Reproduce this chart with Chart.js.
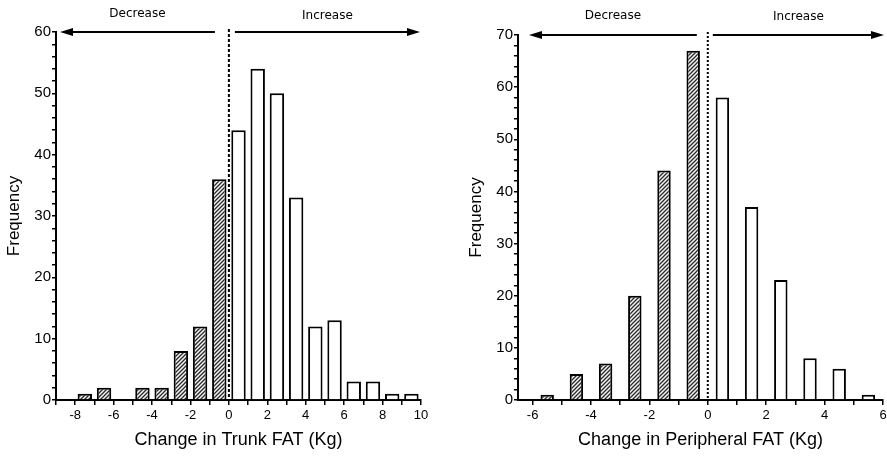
<!DOCTYPE html>
<html>
<head>
<meta charset="utf-8">
<script src="https://cdn.jsdelivr.net/npm/chart.js@4.4.1/dist/chart.umd.min.js"></script>
<style>
  body { margin: 0; background: #fff; }
  #wrap { position: relative; width: 887px; height: 459px; }
  canvas { position: absolute; top: 0; }
</style>
</head>
<body>
<div id="wrap">
  <canvas id="trunk" width="440" height="459" style="left:0"></canvas>
  <canvas id="periph" width="447" height="459" style="left:440px"></canvas>
</div>
<script>
// histogram bins (bin centres) and counts
const trunkBins = [-7.5, -6.5, -5.5, -4.5, -3.5, -2.5, -1.5, -0.5, 0.5, 1.5, 2.5, 3.5, 4.5, 5.5, 6.5, 7.5, 8.5, 9.5];
const trunkFreq = [1, 2, 0, 2, 2, 8, 12, 36, 44, 54, 50, 33, 12, 13, 3, 3, 1, 1];
const periphBins = [-5.5, -4.5, -3.5, -2.5, -1.5, -0.5, 0.5, 1.5, 2.5, 3.5, 4.5, 5.5];
const periphFreq = [1, 5, 7, 20, 44, 67, 58, 37, 23, 8, 6, 1];

// labelled ticks
const trunkXLabels = [-8, -6, -4, -2, 0, 2, 4, 6, 8, 10];
const periphXLabels = [-6, -4, -2, 0, 2, 4, 6];
const trunkYLabels = [0, 10, 20, 30, 40, 50, 60];
const periphYLabels = [0, 10, 20, 30, 40, 50, 60, 70];

const arrowText = ['Decrease', 'Increase'];

// diagonal hatch for the "decrease" bars
function hatch() {
  const c = document.createElement('canvas');
  c.width = 4; c.height = 4;
  const g = c.getContext('2d');
  g.fillStyle = '#f4f4f4';
  g.fillRect(0, 0, 4, 4);
  g.strokeStyle = '#2a2a2a';
  g.lineWidth = 1.3;
  g.beginPath();
  g.moveTo(0, 4); g.lineTo(4, 0);
  g.moveTo(-1, 1); g.lineTo(1, -1);
  g.moveTo(3, 5); g.lineTo(5, 3);
  g.stroke();
  return g.createPattern(c, 'repeat');
}
const hatchFill = hatch();

function drawArrow(ctx, from, to, y) {
  const dir = to > from ? 1 : -1;
  ctx.beginPath();
  ctx.moveTo(from, y);
  ctx.lineTo(to - dir * 8, y);
  ctx.stroke();
  ctx.beginPath();
  ctx.moveTo(to, y);
  ctx.lineTo(to - dir * 13, y - 4);
  ctx.lineTo(to - dir * 13, y + 4);
  ctx.closePath();
  ctx.fill();
}

// zero line, arrows and their captions
const markers = {
  id: 'markers',
  afterDraw(chart, args, o) {
    const {ctx, chartArea: a} = chart;
    const x0 = chart.scales.x.getPixelForValue(0);
    const y = a.top + o.dy;
    ctx.save();
    ctx.strokeStyle = '#000';
    ctx.fillStyle = '#000';
    ctx.lineWidth = 2;
    ctx.setLineDash(o.dash);
    ctx.beginPath();
    ctx.moveTo(x0, a.top - 3);
    ctx.lineTo(x0, a.bottom);
    ctx.stroke();
    ctx.setLineDash([]);

    const l1 = x0 - o.gap[0], l2 = a.left + o.inset[0];
    const r1 = x0 + o.gap[1], r2 = a.right + o.inset[1];
    drawArrow(ctx, l1, l2, y);
    drawArrow(ctx, r1, r2, y);

    ctx.font = '12px "DejaVu Sans"';
    ctx.textAlign = 'center';
    ctx.textBaseline = 'middle';
    ctx.fillText(arrowText[0], (l1 + l2) / 2, o.textY[0]);
    ctx.fillText(arrowText[1], (r1 + r2) / 2, o.textY[1]);
    ctx.restore();
  }
};

function makeChart(id, bins, freq, xMin, xMax, xLabels, yMax, yLabels, opts) {
  const xTicks = [];
  for (let v = Math.ceil(xMin); v <= xMax; v += 1) xTicks.push(v);
  const yTicks = [];
  for (let v = 0; v <= yMax; v += 2) yTicks.push(v);

  return new Chart(document.getElementById(id), {
    type: 'bar',
    data: {
      datasets: [{
        data: bins.map((b, i) => ({x: b, y: freq[i]})),
        backgroundColor: c => (c.raw && c.raw.x < 0) ? hatchFill : '#fff',
        borderColor: '#000',
        borderWidth: 2,
        barPercentage: opts.barPct,
        categoryPercentage: 1
      }]
    },
    options: {
      responsive: false,
      animation: false,
      layout: {padding: opts.padding},
      plugins: {
        legend: {display: false},
        tooltip: {enabled: false},
        markers: opts.markers
      },
      scales: {
        x: {
          type: 'linear',
          min: xMin,
          max: xMax,
          offset: false,
          afterBuildTicks: s => { s.ticks = xTicks.map(v => ({value: v})); },
          afterFit: s => { s.height = 59; s.paddingRight = 0; },
          grid: {offset: false, drawOnChartArea: false, tickLength: 5, color: '#000', tickColor: '#000', lineWidth: 1.5},
          border: {color: '#000', width: 2},
          ticks: {
            autoSkip: false, maxRotation: 0, padding: 3, color: '#000',
            font: {family: '"Liberation Sans", Arial', size: 13},
            callback: v => xLabels.includes(v) ? String(v) : ''
          },
          title: {
            display: true, text: opts.xTitle, color: '#000',
            font: {family: '"Liberation Sans", Arial', size: 18},
            padding: {top: 0, bottom: 8}
          }
        },
        y: {
          min: 0,
          max: yMax,
          afterBuildTicks: s => { s.ticks = yTicks.map(v => ({value: v})); },
          afterFit: s => { s.width = opts.yWidth; },
          grid: {drawOnChartArea: false, tickLength: 4, color: '#000', tickColor: '#000', lineWidth: 1.5},
          border: {color: '#000', width: 2},
          ticks: {
            autoSkip: false, padding: 1, color: '#000',
            font: {family: '"Liberation Sans", Arial', size: 15},
            callback: v => yLabels.includes(v) ? String(v) : ''
          },
          title: {
            display: true, text: 'Frequency', color: '#000',
            font: {family: '"Liberation Sans", Arial', size: 17},
            padding: {top: opts.yTitlePad, bottom: 0}
          }
        }
      }
    },
    plugins: [markers]
  });
}

makeChart('trunk', trunkBins, trunkFreq, -9, 10, trunkXLabels, 60, trunkYLabels, {
  barPct: 0.75,
  padding: {left: 0, top: 32, right: 19, bottom: 0},
  yWidth: 56,
  yTitlePad: 4,
  xTitle: 'Change in Trunk FAT (Kg)',
  markers: {dash: [3, 2], dy: 0, gap: [14, 6], inset: [4, -1], textY: [13.5, 16]}
});

makeChart('periph', periphBins, periphFreq, -6.5, 6, periphXLabels, 70, periphYLabels, {
  barPct: 0.46,
  padding: {left: 0, top: 35, right: 4, bottom: 0},
  yWidth: 78,
  yTitlePad: 26,
  xTitle: 'Change in Peripheral FAT (Kg)',
  markers: {dash: [2, 2], dy: 0, gap: [11, 5], inset: [11, 1], textY: [16, 17]}
});
</script>
</body>
</html>
